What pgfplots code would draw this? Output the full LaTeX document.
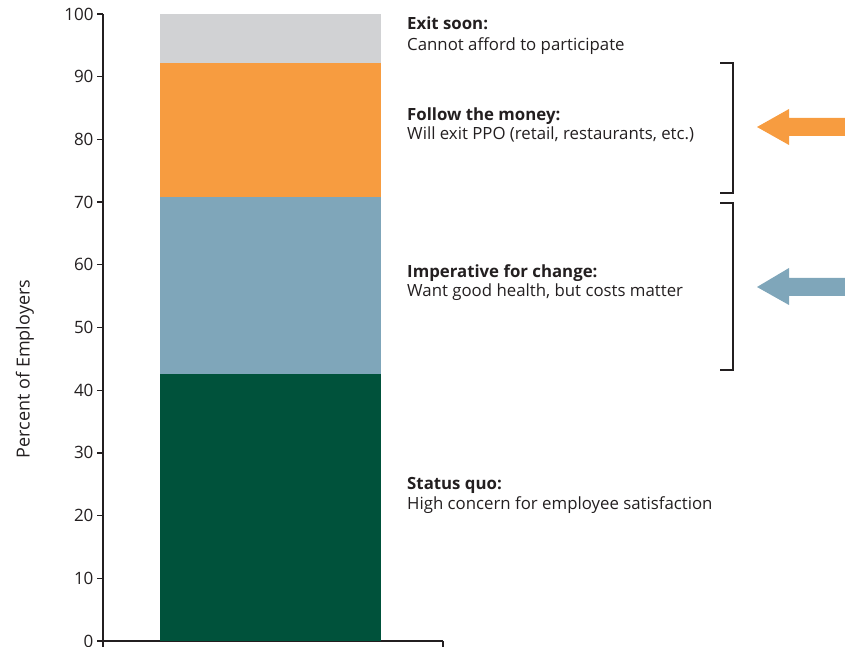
\documentclass[border=0pt]{standalone}
\usepackage{pgfplots}
\pgfplotsset{compat=1.18}
\usepackage{fontspec}
\setmainfont{Open Sans}
\definecolor{cgray}{HTML}{D1D2D4}
\definecolor{corange}{HTML}{F79C40}
\definecolor{cblue}{HTML}{7FA6BA}
\definecolor{cgreen}{HTML}{00523B}
\definecolor{textc}{HTML}{231F20}
\newcommand{\lbl}{\fontsize{16.8}{19}\selectfont}
\begin{document}
\begin{tikzpicture}[x=1pt,y=1pt]
\path[use as bounding box] (-103,-5) rectangle (742,641);
\begin{axis}[
 at={(0,0)}, anchor=south west,
 scale only axis, width=340pt, height=627pt,
 xmin=0, xmax=340, ymin=0, ymax=100,
 axis x line=bottom, axis y line=left,
 axis line style={-, line width=1.2pt, color=textc},
 ytick={0,10,...,100}, xtick={0,340}, xticklabels={},
 tick align=outside, major tick length=6pt,
 tick style={line width=1.2pt, color=textc},
 ybar stacked, bar width=221pt,
 yticklabel style={font=\fontsize{17}{17}\selectfont, text=textc},
 /pgf/number format/assume math mode=true,
 clip=false,
]
\addplot[fill=cgreen, draw=none] coordinates {(167.5,42.6)};
\addplot[fill=cblue, draw=none] coordinates {(167.5,28.2)};
\addplot[fill=corange, draw=none] coordinates {(167.5,21.4)};
\addplot[fill=cgray, draw=none] coordinates {(167.5,7.8)};
\end{axis}
\node[rotate=90, anchor=center, text=textc, font=\fontsize{18}{18}\selectfont] at (-78,272) {Percent of Employers};
\begin{scope}[text=textc, font=\lbl]
\node[anchor=base west, inner sep=0] at (304,611) {\textbf{Exit soon:}};
\node[anchor=base west, inner sep=0] at (304,590) {Cannot afford to participate};
\node[anchor=base west, inner sep=0] at (304,520) {\textbf{Follow the money:}};
\node[anchor=base west, inner sep=0] at (304,501) {Will exit PPO (retail, restaurants, etc.)};
\node[anchor=base west, inner sep=0] at (304,363) {\textbf{Imperative for change:}};
\node[anchor=base west, inner sep=0] at (304,344) {Want good health, but costs matter};
\node[anchor=base west, inner sep=0] at (304,152) {\textbf{Status quo:}};
\node[anchor=base west, inner sep=0] at (304,132) {High concern for employee satisfaction};
\end{scope}
\draw[textc, line width=1.2pt] (617,578) -- (630,578) -- (630,448) -- (617,448);
\draw[textc, line width=1.2pt] (617,438) -- (630,438) -- (630,271) -- (617,271);
\fill[corange] (654,514) -- (686,532) -- (686,523) -- (742,523) -- (742,505) -- (686,505) -- (686,496) -- cycle;
\fill[cblue] (654,354) -- (686,373) -- (686,363) -- (742,363) -- (742,345) -- (686,345) -- (686,336) -- cycle;
\end{tikzpicture}
\end{document}
